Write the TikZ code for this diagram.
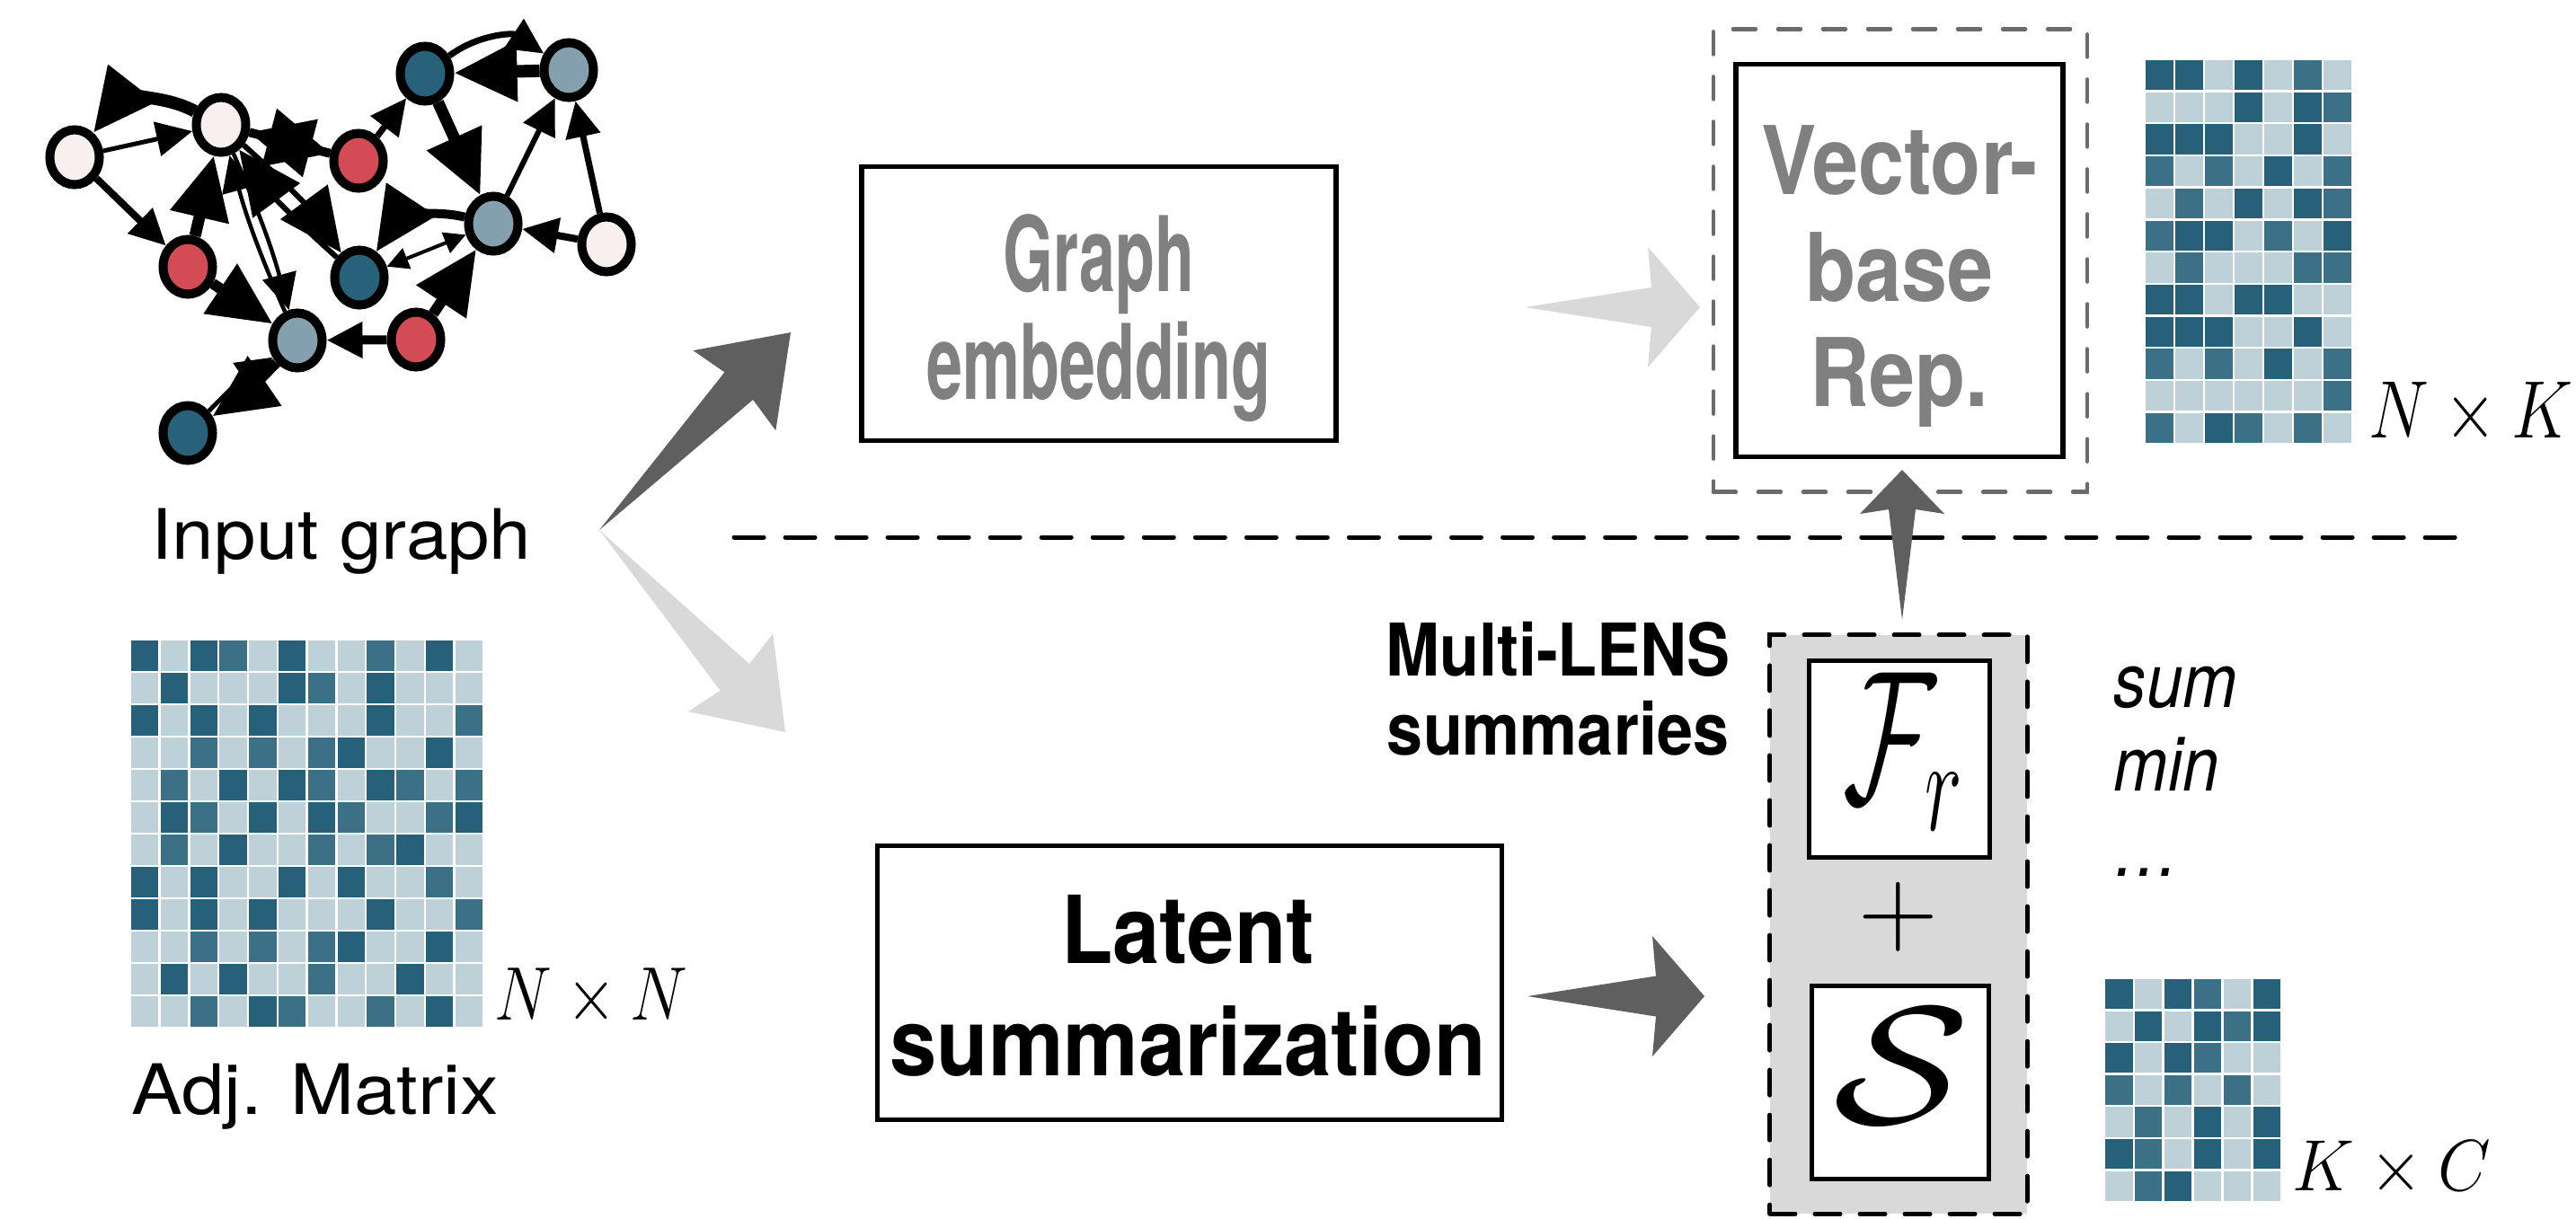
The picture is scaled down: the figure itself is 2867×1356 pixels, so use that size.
\RequirePackage{fix-cm}
\documentclass[tikz,border=0pt]{standalone}
\usepackage[no-math]{fontspec}
\setmainfont{TeX Gyre Heros}
\usepackage{graphicx}
\usetikzlibrary{arrows.meta,calc,shapes.geometric}

% heat-map shades
\definecolor{mL}{HTML}{BED1D8}
\definecolor{mM}{HTML}{3B7086}
\definecolor{mD}{HTML}{266079}
% graph node fills
\definecolor{npink}{HTML}{F8EFEE}
\definecolor{nred}{HTML}{D24B55}
\definecolor{nteal}{HTML}{27627A}
\definecolor{nblue}{HTML}{84A0AE}
% arrows, text and panels
\definecolor{arrdark}{HTML}{5F5F5F}
\definecolor{arrlight}{HTML}{D9D9D9}
\definecolor{txtgray}{HTML}{808080}
\definecolor{boxgray}{HTML}{6B6B6B}
\definecolor{panelgray}{HTML}{D9D9D9}

\newcommand\hsq[2]{\scalebox{#1}[1]{#2}}

% heat map: x0, y0, cell pitch x, cell pitch y, rows of L/M/D
\newcommand\heatmap[5]{%
  \foreach \rowvals [count=\r] in {#5} {
    \foreach \v [count=\c] in \rowvals {
      \fill[m\v] ({#1+(\c-1)*#3},{#2+(\r-1)*#4}) rectangle ++({#3-2.4},{#4-2.4});
    }
  }%
}

\tikzset{
  % tapered block arrow: body-corner setback, barb setback, body half width, barb half width
  dart/.style n args={4}{to path={
    -- ($(\tikztotarget)!#1!(\tikztostart)!#3!90:(\tikztostart)$)
    -- ($(\tikztotarget)!#2!(\tikztostart)!#4!90:(\tikztostart)$)
    -- (\tikztotarget)
    -- ($(\tikztotarget)!#2!(\tikztostart)!#4!-90:(\tikztostart)$)
    -- ($(\tikztotarget)!#1!(\tikztostart)!#3!-90:(\tikztostart)$)
    -- cycle}},
  gnode/.style={ellipse, draw=black, line width=0.1cm, minimum width=0.55cm,
    minimum height=0.61cm, inner sep=0pt},
  bighead/.style={-{Triangle[length=0.7cm,width=0.64cm]}},
  midhead/.style={-{Triangle[length=0.4cm,width=0.38cm]}},
  smallhead/.style={-{Triangle[length=0.24cm,width=0.24cm]}},
  framebox/.style={draw=black, line width=0.055cm, fill=white, inner sep=0pt},
  lbl/.style={font=\fontsize{22}{26}\selectfont, inner sep=0pt, anchor=base},
  mathlbl/.style={font=\fontsize{24}{28}\selectfont, inner sep=0pt, anchor=base},
  graytxt/.style={text=txtgray, font=\fontsize{30}{36}\selectfont\bfseries,
    inner sep=0pt, anchor=base},
  blacktxt/.style={font=\fontsize{29.7}{36}\selectfont\bfseries, inner sep=0pt,
    anchor=base},
  lenstxt/.style={font=\fontsize{23}{28}\selectfont\bfseries, inner sep=0pt,
    anchor=base},
  optxt/.style={font=\fontsize{24}{28}\selectfont\itshape, inner sep=0pt,
    anchor=base west},
  dashline/.style={draw=black, line width=0.05cm, line cap=round,
    dash pattern=on 0.33cm off 0.24cm},
}

\begin{document}
\begin{tikzpicture}[x=0.01cm, y=-0.01cm]
\useasboundingbox (0,0) rectangle (2867,1356);

% ---------------- input graph ----------------
\begin{scope}[every node/.style={gnode}]
  \node[fill=npink] (g1) at (83,175) {};
  \node[fill=npink] (g2) at (246,139) {};
  \node[fill=nred]  (g3) at (399,179) {};
  \node[fill=nteal] (g4) at (473,82) {};
  \node[fill=nblue] (g5) at (633,78) {};
  \node[fill=nred]  (g6) at (209,297) {};
  \node[fill=nteal] (g7) at (400,309) {};
  \node[fill=nblue] (g8) at (549,249) {};
  \node[fill=npink] (g9) at (675,272) {};
  \node[fill=nblue] (g10) at (331,379) {};
  \node[fill=nred]  (g11) at (463,378) {};
  \node[fill=nteal] (g12) at (209,482) {};
\end{scope}

\draw[line width=0.14cm, bighead] (g2) to[bend right=40] (g1);
\draw[line width=0.05cm, midhead] (g1) -- (g2);
\draw[line width=0.08cm, midhead] (g1) -- (g6);
\draw[line width=0.13cm, bighead] (g6) -- (g2);
\draw[line width=0.045cm, midhead] (g2) to[bend left=4] (g10);
\draw[line width=0.045cm, midhead] (g10) to[bend left=4] (g2);
\draw[line width=0.1cm, bighead] (g2) -- (g3);
\draw[line width=0.1cm, bighead] (g3) -- (g2);
\draw[line width=0.06cm, bighead] (g2) to[bend left=6] (g7);
\draw[line width=0.06cm, bighead] (g7) to[bend left=6] (g2);
\draw[line width=0.07cm, midhead] (g3) -- (g4);
\draw[line width=0.07cm, midhead] (g4) to[bend left=35] (g5);
\draw[line width=0.14cm, bighead] (g5) -- (g4);
\draw[line width=0.13cm, bighead] (g4) -- (g8);
\draw[line width=0.06cm, midhead] (g8) -- (g5);
\draw[line width=0.07cm, midhead] (g9) -- (g5);
\draw[line width=0.1cm, bighead] (g8) to[bend right=35] (g7);
\draw[line width=0.04cm, {Triangle[length=0.24cm,width=0.24cm]}-{Triangle[length=0.24cm,width=0.24cm]}] (g7) -- (g8);
\draw[line width=0.08cm, midhead] (g9) -- (g8);
\draw[line width=0.12cm, bighead] (g11) -- (g8);
\draw[line width=0.1cm, midhead] (g11) -- (g10);
\draw[line width=0.12cm, bighead] (g6) -- (g10);
\draw[line width=0.12cm, bighead] (g10) to[bend left=6] (g12);
\draw[line width=0.05cm, midhead] (g12) to[bend left=6] (g10);

\node[lbl] (inlbl) at (380,622) {\hsq{1.08}{Input graph}};

% ---------------- adjacency matrix ----------------
\heatmap{146}{713}{32.8}{36}{%
  {D,L,D,M,L,D,L,L,M,L,D,L},
  {L,D,L,L,L,D,M,L,D,L,L,L},
  {D,L,D,L,D,L,L,L,D,L,L,M},
  {L,L,M,L,M,L,M,D,L,L,D,L},
  {L,M,L,D,L,D,M,L,D,M,L,M},
  {L,D,M,L,D,L,D,M,L,L,M,D},
  {L,M,L,D,L,L,M,L,M,D,L,L},
  {D,L,D,L,L,D,L,D,L,L,M,L},
  {D,L,D,L,D,L,L,L,D,L,L,M},
  {L,L,M,L,M,L,M,D,L,L,D,L},
  {L,D,L,D,L,L,M,L,L,D,L,L},
  {L,L,M,L,D,M,L,L,M,L,D,L}}
\node[mathlbl] (nnlbl) at (658,1135) {\hsq{0.85}{$N\times N$}};
\node[lbl] (adjlbl) at (351,1240) {\hsq{1.1}{Adj. Matrix}};

% ---------------- graph embedding branch ----------------
\node[framebox, minimum width=5.28cm, minimum height=3.05cm] (gemb) at (1223,338) {};
\node[graytxt, font=\fontsize{33}{40}\selectfont\bfseries] (gemb1) at (1223,324) {\hsq{0.62}{Graph}};
\node[graytxt, font=\fontsize{33}{40}\selectfont\bfseries] (gemb2) at (1223,444) {\hsq{0.62}{embedding}};

\node[draw=boxgray, line width=0.045cm, line cap=round,
      dash pattern=on 0.25cm off 0.25cm, minimum width=4.16cm,
      minimum height=5.15cm, inner sep=0pt] (vouter) at (2115,290) {};
\node[framebox, minimum width=3.64cm, minimum height=4.37cm] (vbox) at (2114,290) {};
\node[graytxt] (vb1) at (2114,216) {\hsq{0.87}{Vector-}};
\node[graytxt] (vb2) at (2114,335) {\hsq{0.87}{base}};
\node[graytxt] (vb3) at (2114,452) {\hsq{0.87}{Rep.}};

\heatmap{2388}{67}{33}{35.7}{%
  {D,D,L,D,L,M,L},
  {L,L,L,D,L,D,M},
  {D,D,D,L,L,D,L},
  {M,L,M,L,D,L,M},
  {L,M,L,D,L,D,M},
  {M,D,D,L,M,L,D},
  {L,M,L,L,L,M,M},
  {D,D,L,D,D,L,L},
  {D,D,D,L,L,D,L},
  {M,L,M,L,D,L,M},
  {L,L,L,L,L,L,M},
  {M,L,D,M,L,M,L}}
\node[font=\fontsize{25.8}{30}\selectfont, inner sep=0pt, anchor=base] (nklbl) at (2750,487) {\hsq{0.83}{$N\times K$}};

% separator between the two branches
\coordinate (sepL) at (817,598);
\coordinate (sepR) at (2743,598);
\draw[dashline] (sepL) -- (sepR);

% ---------------- latent summarization branch ----------------
\node[framebox, minimum width=6.95cm, minimum height=3.05cm] (latent) at (1324,1094) {};
\node[blacktxt] (lat1) at (1322,1072) {\hsq{0.9}{Latent}};
\node[blacktxt] (lat2) at (1322,1197) {\hsq{0.9}{summarization}};

\node[draw=black, fill=panelgray, line width=0.05cm, line cap=round,
      dash pattern=on 0.28cm off 0.22cm, minimum width=2.86cm,
      minimum height=6.44cm, inner sep=0pt] (lens) at (2113,1029) {};
\node[lenstxt] (lens1) at (1734,752) {\hsq{0.89}{Multi-LENS}};
\node[lenstxt] (lens2) at (1734,840) {\hsq{0.89}{summaries}};

\node[framebox, line width=0.05cm, minimum width=2.0cm, minimum height=2.18cm] (fbox) at (2114,845) {};
\node[font=\fontsize{60}{70}\selectfont, inner sep=0pt, anchor=base] (flbl) at (2118,893) {\hsq{0.6}{$\mathcal{F}_r$}};
\node[font=\fontsize{35}{40}\selectfont, inner sep=0pt] (plus) at (2113,1021) {$+$};
\node[framebox, line width=0.05cm, minimum width=1.96cm, minimum height=2.15cm] (sbox) at (2115,1205) {};
\node[font=\fontsize{53}{60}\selectfont, inner sep=0pt, anchor=base] (slbl) at (2117,1250) {\hsq{1.2}{$\mathcal{S}$}};

\node[optxt] (op1) at (2352,787) {\hsq{0.86}{sum}};
\node[optxt] (op2) at (2352,880) {\hsq{0.86}{min}};
\node[optxt] (op3) at (2352,975) {\hsq{0.86}{…}};

\heatmap{2343}{1090}{32.9}{35.6}{%
  {D,L,D,M,L,D},
  {L,D,L,D,M,D},
  {D,L,D,M,L,L},
  {M,L,M,L,M,L},
  {L,M,L,D,L,D},
  {D,M,L,D,L,D},
  {L,M,D,L,L,L}}
\node[font=\fontsize{23}{28}\selectfont, inner sep=0pt, anchor=base] (kclbl) at (2662,1325) {\hsq{0.94}{$K\times C$}};

% ---------------- block arrows ----------------
\coordinate (split) at (667,590);
\coordinate (toemb) at (880,370);
\coordinate (tolat) at (874,815);
\coordinate (embout) at (1697,342);
\coordinate (vecin) at (1892,342);
\coordinate (latout) at (1700,1109);
\coordinate (lensin) at (1897,1109);
\coordinate (lensout) at (2117,690);
\coordinate (vecbot) at (2117,523);

\fill[arrdark] (split) to[dart={0.83cm}{0.9cm}{0.22cm}{0.64cm}] (toemb);
\fill[arrlight] (split) to[dart={0.83cm}{0.9cm}{0.22cm}{0.64cm}] (tolat);
\fill[arrlight] (embout) to[dart={0.54cm}{0.58cm}{0.22cm}{0.67cm}] (vecin);
\fill[arrdark] (latout) to[dart={0.54cm}{0.58cm}{0.225cm}{0.67cm}] (lensin);
\fill[arrdark] (lensout) to[dart={0.44cm}{0.49cm}{0.15cm}{0.47cm}] (vecbot);

\end{tikzpicture}
\end{document}
